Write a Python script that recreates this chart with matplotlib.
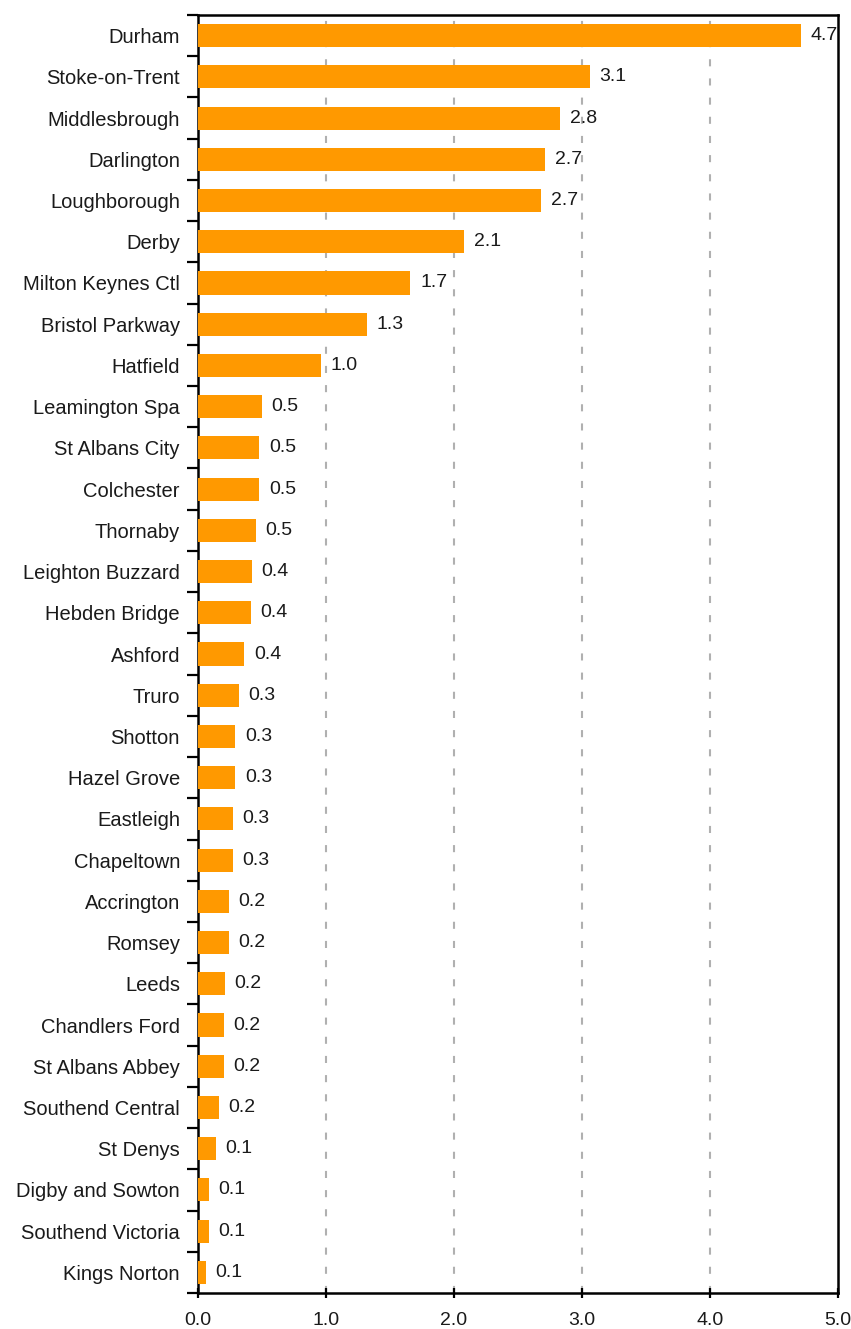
import numpy as np
import matplotlib.pyplot as plt
from matplotlib.ticker import FixedLocator

plt.rcParams['font.family'] = ['Liberation Sans', 'DejaVu Sans']

stations = ['Durham', 'Stoke-on-Trent', 'Middlesbrough', 'Darlington', 'Loughborough',
            'Derby', 'Milton Keynes Ctl', 'Bristol Parkway', 'Hatfield', 'Leamington Spa',
            'St Albans City', 'Colchester', 'Thornaby', 'Leighton Buzzard', 'Hebden Bridge',
            'Ashford', 'Truro', 'Shotton', 'Hazel Grove', 'Eastleigh', 'Chapeltown',
            'Accrington', 'Romsey', 'Leeds', 'Chandlers Ford', 'St Albans Abbey',
            'Southend Central', 'St Denys', 'Digby and Sowton', 'Southend Victoria',
            'Kings Norton']
values = [4.71, 3.06, 2.83, 2.71, 2.68,
          2.08, 1.66, 1.32, 0.96, 0.50,
          0.48, 0.48, 0.45, 0.42, 0.41,
          0.36, 0.32, 0.29, 0.29, 0.27, 0.27,
          0.24, 0.24, 0.21, 0.20, 0.20,
          0.16, 0.14, 0.085, 0.085, 0.06]
x_ticks = [0, 1, 2, 3, 4, 5]

fig = plt.figure(figsize=(8.51, 13.29), dpi=100)
ax = fig.add_axes([0.2327, 0.0271, 0.752, 0.9616])

y = np.arange(len(stations))
bars = ax.barh(y, values, height=0.56, color='#FF9900', zorder=3)
ax.bar_label(bars, labels=['%.1f' % v for v in values], padding=7,
             fontsize=14, color='#1a1a1a')

ax.set_ylim(len(stations) - 0.5, -0.5)
ax.set_xlim(0, 5)

ax.set_yticks(y)
ax.set_yticklabels(stations, fontsize=14.5, color='#1a1a1a')
ax.tick_params(axis='y', which='major', length=0, pad=13)
ax.yaxis.set_minor_locator(FixedLocator(np.arange(-0.5, len(stations), 1.0)))
ax.tick_params(axis='y', which='minor', length=8, width=1.6, direction='out')

ax.set_xticks(x_ticks)
ax.set_xticklabels(['%.1f' % t for t in x_ticks], fontsize=14, color='#1a1a1a')
ax.tick_params(axis='x', length=7, width=1.6, direction='inout', pad=10)

for t in x_ticks[1:-1]:
    ax.axvline(t, color='#b0b0b0', linewidth=1.5, linestyle=(0, (3.4, 5.8)), zorder=1)

for s in ax.spines.values():
    s.set_linewidth(1.8)
    s.set_color('black')

fig.savefig('out.png', dpi=100)
